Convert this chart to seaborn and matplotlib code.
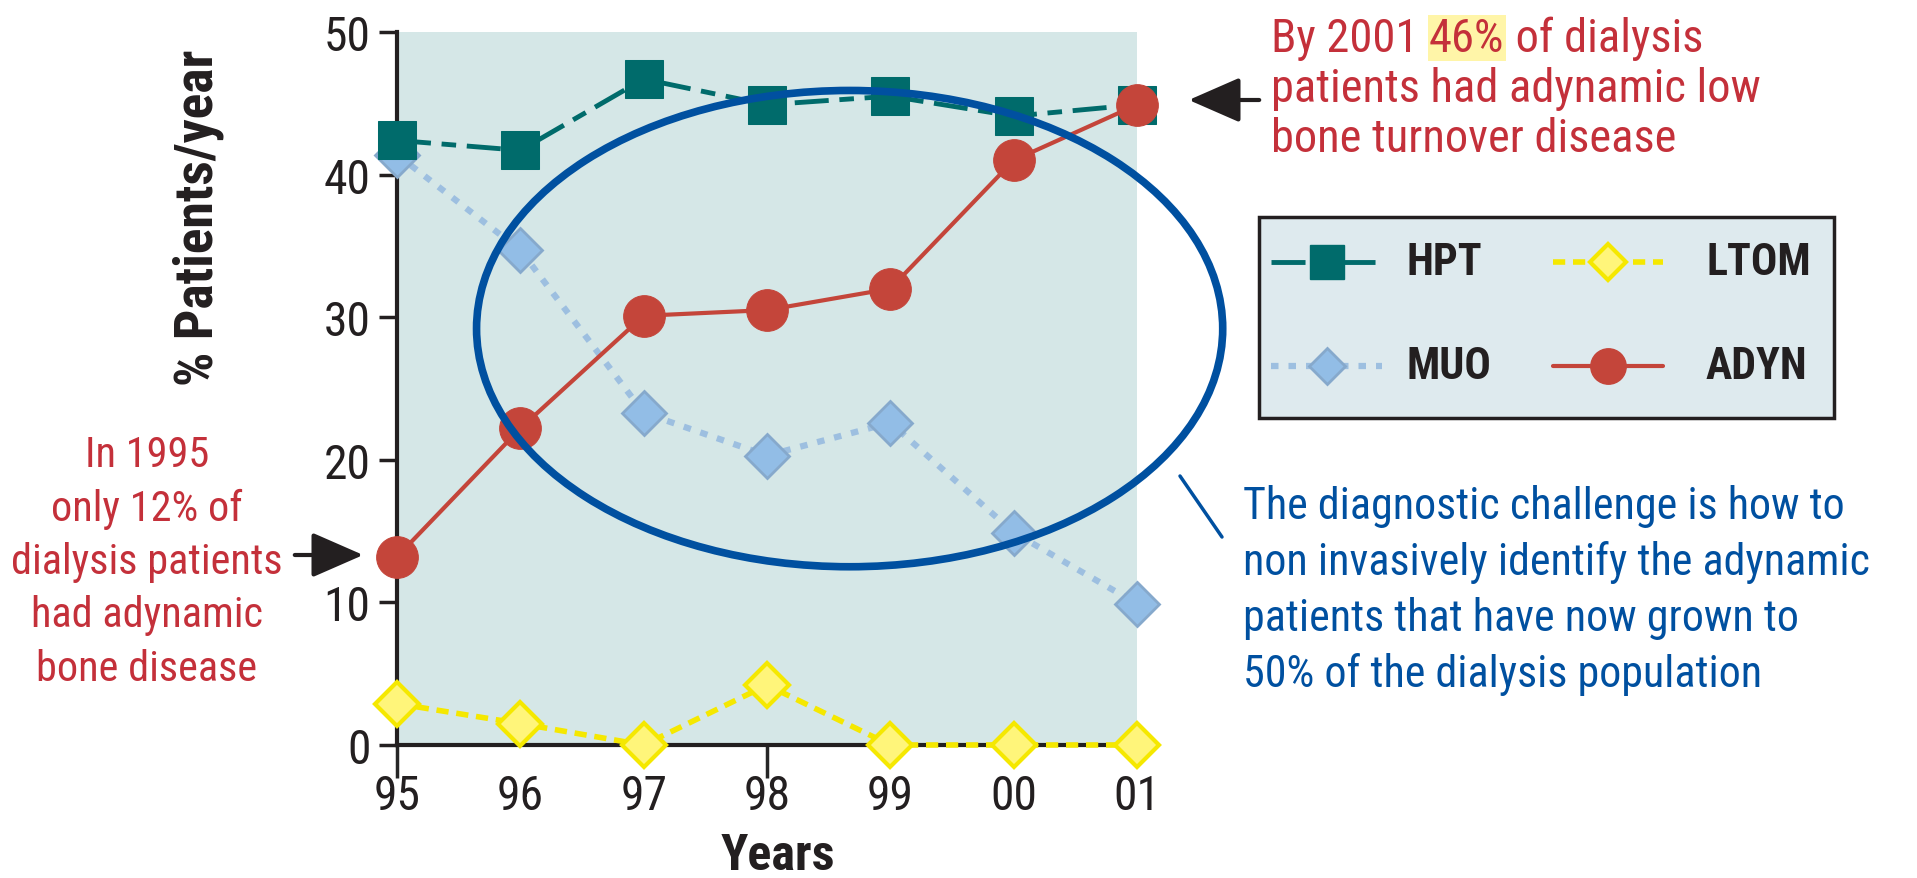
import matplotlib
matplotlib.use("Agg")
import matplotlib.pyplot as plt
import seaborn as sns
import numpy as np
import pandas as pd
from matplotlib.patches import Ellipse, FancyArrowPatch, Rectangle
from matplotlib.lines import Line2D
from matplotlib import font_manager as fm

years = ["95", "96", "97", "98", "99", "00", "01"]
hpt = [42.4, 41.7, 46.7, 44.9, 45.5, 44.1, 44.9]
muo = [41.4, 34.7, 23.3, 20.3, 22.6, 14.9, 9.9]
ltom = [2.9, 1.5, 0.0, 4.2, 0.0, 0.0, 0.0]
adyn = [13.2, 22.2, 30.1, 30.5, 32.0, 41.0, 44.9]
series_names = ["HPT", "MUO", "LTOM", "ADYN"]
yticks = [0, 10, 20, 30, 40, 50]

sns.set_theme(style="white")

def pick_font():
    names = {f.name for f in fm.fontManager.ttflist}
    for cand in ["Roboto Condensed", "Liberation Sans Narrow", "Open Sans Condensed",
                 "Noto Sans Condensed", "Roboto", "Liberation Sans", "Lato"]:
        if cand in names:
            return cand
    return "DejaVu Sans"

MAIN = pick_font()
plt.rcParams["font.family"] = [MAIN, "DejaVu Sans"]

W, H = 1917, 879
fig = plt.figure(figsize=(W / 100, H / 100), dpi=100)
fig.canvas.draw()
R = fig.canvas.get_renderer()

def fit(s, target, weight="normal"):
    t = fig.text(0, 0, s, fontsize=20, fontweight=weight)
    w = t.get_window_extent(R).width
    t.remove()
    return 20 * target / w

def fx(px):
    return px / W

def fy(py):
    return 1 - py / H

ax = fig.add_axes([fx(397), fy(746), 740 / W, 713 / H])
ax.set_facecolor("#d5e7e7")

xi = np.arange(len(years))
df = pd.DataFrame({"x": xi, "HPT": hpt, "MUO": muo, "LTOM": ltom, "ADYN": adyn})

styles = {
    "HPT": dict(color="#006b6b", marker="s", markersize=28, markerfacecolor="#006b6b",
                markeredgecolor="#006b6b", linewidth=3.5, linestyle=(0, (7, 2.2, 3, 2.2))),
    "MUO": dict(color="#9dbfe0", marker="D", markersize=22, markerfacecolor="#92bde6",
                markeredgecolor="#86a9cc", markeredgewidth=2, linewidth=4.5, linestyle=(0, (1.2, 1.6))),
    "LTOM": dict(color="#f5e800", marker="D", markersize=22, markerfacecolor="#fff57a",
                 markeredgecolor="#f5e800", markeredgewidth=3, linewidth=4, linestyle=(0, (2.2, 1.4))),
    "ADYN": dict(color="#c4453a", marker="o", markersize=30, markerfacecolor="#c4453a",
                 markeredgecolor="#c4453a", linewidth=3),
}
for name in ["LTOM", "MUO", "HPT", "ADYN"]:
    sns.lineplot(data=df, x="x", y=name, ax=ax, legend=False, clip_on=False, zorder=3,
                 **styles[name])

tick_fs = fit("50", 47)
ax.set_xlim(0, 6)
ax.set_ylim(0, 50)
ax.set_xticks(xi)
ax.set_xticklabels(years)
ax.set_yticks(yticks)
ax.tick_params(axis="y", which="both", left=True, length=13, width=2.5, direction="out",
               labelsize=tick_fs, pad=6, color="#231f20", labelcolor="#231f20")
ax.tick_params(axis="x", which="both", bottom=True, length=0, labelsize=tick_fs, pad=20,
               labelcolor="#231f20")
ticks = ax.xaxis.get_major_ticks()
for i in (0, 3):
    ticks[i].tick1line.set_markersize(24)
    ticks[i].tick1line.set_markeredgewidth(2.5)
    ticks[i].tick1line.set_color("#231f20")
for s in ["top", "right"]:
    ax.spines[s].set_visible(False)
for s in ["left", "bottom"]:
    ax.spines[s].set_linewidth(3)
    ax.spines[s].set_color("#231f20")

xl_fs = fit("Years", 114, "bold")
ax.set_xlabel("Years", fontsize=xl_fs, fontweight="bold", color="#231f20")
ax.xaxis.set_label_coords((778 - 397) / 740, -(856 - 746) / 713)
ax.xaxis.label.set_va("center")
yl_fs = fit("% Patients/year", 336, "bold")
ax.set_ylabel("% Patients/year", fontsize=yl_fs, fontweight="bold", color="#231f20")
ax.yaxis.set_label_coords((198 - 397) / 740, (746 - 218) / 713)
ax.yaxis.label.set_va("center")

ell = Ellipse((3.67, 29.2), 6.05, 33.4, fill=False, edgecolor="#0050a0", linewidth=5.5,
              clip_on=False, zorder=4)
ax.add_patch(ell)

# Legend (drawn as a boxed key in figure coordinates)
fig.add_artist(Rectangle((fx(1259), fy(419)), 575 / W, 201 / H, transform=fig.transFigure,
                         facecolor="#deeaee", edgecolor="#231f20", linewidth=2.5, zorder=5))
leg_fs = fit("ADYN", 102, "bold")
key_pos = {"HPT": (1271, 1382, 1406, 263), "MUO": (1271, 1382, 1406, 367),
           "LTOM": (1553, 1663, 1706, 263), "ADYN": (1553, 1663, 1706, 367)}
for name in series_names:
    x0, x1, xt, yc = key_pos[name]
    st = dict(styles[name])
    st["markersize"] = st["markersize"] * 0.85
    fig.add_artist(Line2D([fx(x0), fx((x0 + x1) / 2), fx(x1)], [fy(yc)] * 3,
                          transform=fig.transFigure, markevery=[1], zorder=6, **st))
    fig.text(fx(xt), fy(yc), name, fontsize=leg_fs, fontweight="bold", color="#231f20",
             ha="left", va="center", zorder=6)

red = "#c4303a"
blue = "#0050a0"
ann_fs = fit("patients had adynamic low", 489)

# Top right annotation
y1 = fy(52)
t1 = fig.text(fx(1271), y1, "By 2001 ", color=red, fontsize=ann_fs, va="baseline", ha="left")
bb = t1.get_window_extent(R)
t2 = fig.text(bb.x1 / W, y1, "46%", color=red, fontsize=ann_fs, va="baseline", ha="left",
              bbox=dict(facecolor="#fff5a8", edgecolor="none", pad=1))
bb2 = t2.get_window_extent(R)
fig.text(bb2.x1 / W, y1, " of dialysis", color=red, fontsize=ann_fs, va="baseline", ha="left")
fig.text(fx(1271), fy(102), "patients had adynamic low", color=red, fontsize=ann_fs,
         va="baseline", ha="left")
fig.text(fx(1271), fy(152), "bone turnover disease", color=red, fontsize=ann_fs,
         va="baseline", ha="left")

fig.add_artist(FancyArrowPatch((fx(1262), fy(101)), (fx(1186), fy(101)),
               transform=fig.transFigure, arrowstyle="-|>,head_length=1.6,head_width=0.7",
               color="#231f20", linewidth=3, mutation_scale=20))

# Left annotation
left_fs = fit("dialysis patients", 271)
left_lines = ["In 1995", "only 12% of", "dialysis patients", "had adynamic", "bone disease"]
for k, line in enumerate(left_lines):
    fig.text(fx(147), fy(467 + 53.5 * k), line, color=red, fontsize=left_fs,
             ha="center", va="baseline")
fig.add_artist(FancyArrowPatch((fx(292), fy(556)), (fx(366), fy(556)),
               transform=fig.transFigure, arrowstyle="-|>,head_length=1.6,head_width=0.7",
               color="#231f20", linewidth=3, mutation_scale=20))

# Blue annotation
blue_fs = fit("non invasively identify the adynamic", 625)
blue_lines = ["The diagnostic challenge is how to", "non invasively identify the adynamic",
              "patients that have now grown to", "50% of the dialysis population"]
for k, line in enumerate(blue_lines):
    fig.text(fx(1243), fy(519 + 56 * k), line, color=blue, fontsize=blue_fs,
             ha="left", va="baseline")
fig.add_artist(Line2D([fx(1180), fx(1222)], [fy(477), fy(538)],
                      transform=fig.transFigure, color=blue, linewidth=2.5))

fig.savefig("out.png", dpi=100)
